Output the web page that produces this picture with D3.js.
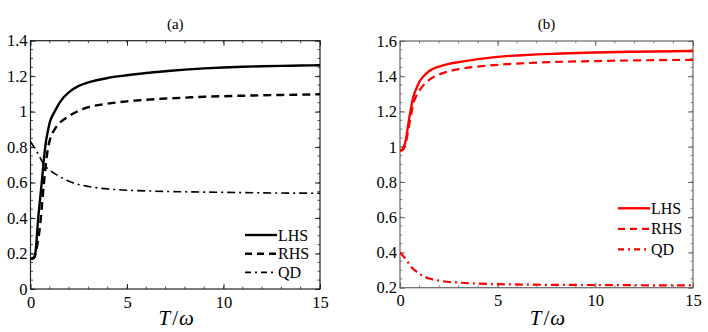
<!DOCTYPE html>
<meta charset="utf-8">
<style>
body { margin: 0; background: #fff; }
</style>
<body>
</body>
<script src="https://cdn.jsdelivr.net/npm/d3@7"></script>
<script>

// Panel (a) data
var tA      = [0, 0.1, 0.2, 0.25, 0.3, 0.35, 0.4, 0.5, 0.6, 0.7, 0.8, 0.9, 1.0, 1.1, 1.25, 1.5, 2, 2.5, 3, 4, 5, 6, 7, 8, 9, 10, 11, 12, 13, 14, 15];
var lhsA    = [0.17, 0.17, 0.18, 0.2, 0.25, 0.33, 0.40, 0.51, 0.62, 0.74, 0.83, 0.89, 0.94, 0.97, 1.0, 1.05, 1.11, 1.145, 1.165, 1.19, 1.205, 1.218, 1.228, 1.237, 1.244, 1.249, 1.253, 1.256, 1.258, 1.26, 1.262];
var tRhsA   = [0, 0.2, 0.3, 0.4, 0.5, 0.6, 0.7, 0.8, 0.9, 1.0, 1.25, 1.5, 2, 2.5, 3, 4, 5, 6, 7, 8, 9, 10, 11, 12, 13, 14, 15];
var rhsA    = [0.17, 0.18, 0.22, 0.28, 0.36, 0.48, 0.60, 0.71, 0.79, 0.84, 0.90, 0.935, 0.975, 1.005, 1.025, 1.045, 1.058, 1.067, 1.074, 1.079, 1.084, 1.087, 1.09, 1.092, 1.094, 1.096, 1.098];
var tQdA    = [0, 0.3, 0.5, 0.7, 1.0, 1.5, 2, 3, 4, 5, 6, 7, 8, 10, 12, 15];
var qdA     = [0.83, 0.78, 0.74, 0.70, 0.67, 0.635, 0.607, 0.578, 0.564, 0.557, 0.553, 0.55, 0.548, 0.545, 0.542, 0.54];

// Panel (b) data
var tB      = [0, 0.1, 0.2, 0.3, 0.4, 0.5, 0.6, 0.7, 0.8, 1.0, 1.25, 1.5, 2, 2.5, 3, 4, 5, 6, 7, 8, 9, 10, 12, 15];
var lhsB    = [0.98, 0.98, 1.0, 1.04, 1.11, 1.18, 1.24, 1.29, 1.32, 1.37, 1.405, 1.43, 1.455, 1.47, 1.48, 1.497, 1.51, 1.518, 1.524, 1.528, 1.532, 1.535, 1.539, 1.543];
var rhsB    = [0.98, 0.98, 0.99, 1.02, 1.08, 1.14, 1.20, 1.25, 1.28, 1.32, 1.355, 1.38, 1.41, 1.428, 1.44, 1.455, 1.465, 1.472, 1.477, 1.481, 1.484, 1.486, 1.49, 1.493];
var tQdB    = [0, 0.2, 0.4, 0.6, 0.8, 1.0, 1.5, 2, 3, 4, 5, 7, 10, 15];
var qdB     = [0.40, 0.375, 0.345, 0.315, 0.295, 0.278, 0.252, 0.24, 0.229, 0.223, 0.22, 0.217, 0.215, 0.213];

var xTicks  = [0, 5, 10, 15];
var yTicksA = [0, 0.2, 0.4, 0.6, 0.8, 1, 1.2, 1.4];
var yTicksB = [0.2, 0.4, 0.6, 0.8, 1, 1.2, 1.4, 1.6];
var seriesNames = ["LHS", "RHS", "QD"];

var FONT = '"Liberation Serif"';

var W = 708, H = 332;
var svg = d3.select("body").append("svg")
    .attr("width", W)
    .attr("height", H);

var dashes = [null, "8,5", "8,4,2,4"];

function zip(ts, vs) {
  return ts.map(function(t, i) { return [t, vs[i]]; });
}

function yFmt(d) {
  return Math.abs(d - Math.round(d)) < 1e-9 ? String(Math.round(d)) : d3.format(".1f")(d);
}

function panel(opt) {
  var x = d3.scaleLinear().domain([0, 15]).range([opt.left, opt.right]);
  var y = d3.scaleLinear().domain(opt.yDomain).range([opt.bottom, opt.top]);
  var g = svg.append("g");

  var xMinor = d3.range(0, 15.001, 1);
  var yMinor = d3.range(opt.yDomain[0], opt.yDomain[1] + 0.001, 0.05);

  // minor ticks, inward on all sides
  var minor = g.append("g").attr("stroke", opt.frame).attr("stroke-width", 0.8);
  xMinor.forEach(function(v) {
    minor.append("line").attr("x1", x(v)).attr("x2", x(v)).attr("y1", opt.bottom).attr("y2", opt.bottom - 2.5);
    minor.append("line").attr("x1", x(v)).attr("x2", x(v)).attr("y1", opt.top).attr("y2", opt.top + 2.5);
  });
  yMinor.forEach(function(v) {
    minor.append("line").attr("x1", opt.left).attr("x2", opt.left + 2.5).attr("y1", y(v)).attr("y2", y(v));
    minor.append("line").attr("x1", opt.right).attr("x2", opt.right - 2.5).attr("y1", y(v)).attr("y2", y(v));
  });

  var bx = g.append("g").attr("transform", "translate(0," + opt.bottom + ")")
      .call(d3.axisBottom(x).tickValues(xTicks).tickSizeInner(-5).tickSizeOuter(0)
        .tickPadding(7).tickFormat(d3.format("d")));
  var lx = g.append("g").attr("transform", "translate(" + opt.left + ",0)")
      .call(d3.axisLeft(y).tickValues(opt.yTicks).tickSizeInner(-5).tickSizeOuter(0)
        .tickPadding(3).tickFormat(yFmt));
  var tx = g.append("g").attr("transform", "translate(0," + opt.top + ")")
      .call(d3.axisTop(x).tickValues(xTicks).tickSizeInner(-5).tickSizeOuter(0).tickFormat(""));
  var rx = g.append("g").attr("transform", "translate(" + opt.right + ",0)")
      .call(d3.axisRight(y).tickValues(opt.yTicks).tickSizeInner(-5).tickSizeOuter(0).tickFormat(""));
  [bx, lx, tx, rx].forEach(function(a) {
    a.attr("font-family", FONT).attr("font-size", 16.5);
    a.select(".domain").remove();
    a.selectAll(".tick line").attr("stroke", opt.frame);
    a.selectAll(".tick text").attr("fill", "#000");
  });

  // frame
  g.append("rect")
      .attr("x", opt.left).attr("y", opt.top)
      .attr("width", opt.right - opt.left).attr("height", opt.bottom - opt.top)
      .attr("fill", "none").attr("stroke", opt.frame).attr("stroke-width", 1.2);

  var line = d3.line()
      .x(function(d) { return x(d[0]); })
      .y(function(d) { return y(d[1]); })
      .curve(d3.curveMonotoneX);

  var clipId = "clip" + opt.name;
  svg.append("clipPath").attr("id", clipId).append("rect")
      .attr("x", opt.left).attr("y", opt.top)
      .attr("width", opt.right - opt.left).attr("height", opt.bottom - opt.top);

  opt.series.forEach(function(s, i) {
    g.append("path")
        .datum(s)
        .attr("clip-path", "url(#" + clipId + ")")
        .attr("fill", "none")
        .attr("stroke", opt.color)
        .attr("stroke-width", opt.widths[i])
        .attr("stroke-dasharray", dashes[i])
        .attr("d", line);
  });

  // title
  g.append("text")
      .attr("x", (opt.left + opt.right) / 2)
      .attr("y", 29)
      .attr("text-anchor", "middle")
      .attr("font-family", FONT)
      .attr("font-size", 15)
      .text("(" + opt.name + ")");

  // axis label T/ω
  var lab = g.append("text")
      .attr("x", (opt.left + opt.right) / 2 + 1)
      .attr("y", 325)
      .attr("text-anchor", "middle")
      .attr("font-family", FONT)
      .attr("font-size", 21);
  lab.append("tspan").attr("font-style", "italic").text("T");
  lab.append("tspan").attr("dx", 2).text("/");
  lab.append("tspan").attr("dx", 1).attr("font-style", "italic").text("ω");

  // legend
  seriesNames.forEach(function(n, i) {
    var ly = opt.legY + i * opt.legStep;
    g.append("line")
        .attr("x1", opt.legX).attr("x2", opt.legX + 32)
        .attr("y1", ly).attr("y2", ly)
        .attr("stroke", opt.color)
        .attr("stroke-width", opt.widths[i])
        .attr("stroke-dasharray", i === 1 ? "7,5" : (i === 2 ? "6,4,2,4" : null));
    g.append("text")
        .attr("x", opt.legX + 33)
        .attr("y", ly + 5.5)
        .attr("font-family", FONT)
        .attr("font-size", 16)
        .text(n);
  });
}

panel({
  name: "a",
  left: 30.5, right: 320, top: 40.7, bottom: 289,
  yDomain: [0, 1.4], yTicks: yTicksA,
  frame: "#222", color: "#000",
  widths: [2.4, 2.4, 1.6],
  series: [zip(tA, lhsA), zip(tRhsA, rhsA), zip(tQdA, qdA)],
  legX: 245, legY: 235, legStep: 18.7
});

panel({
  name: "b",
  left: 400, right: 693, top: 41, bottom: 287.7,
  yDomain: [0.2, 1.6], yTicks: yTicksB,
  frame: "#666", color: "#ff0000",
  widths: [2.4, 2.2, 2.2],
  series: [zip(tB, lhsB), zip(tB, rhsB), zip(tQdB, qdB)],
  legX: 618, legY: 208.3, legStep: 20.5
});

</script>
